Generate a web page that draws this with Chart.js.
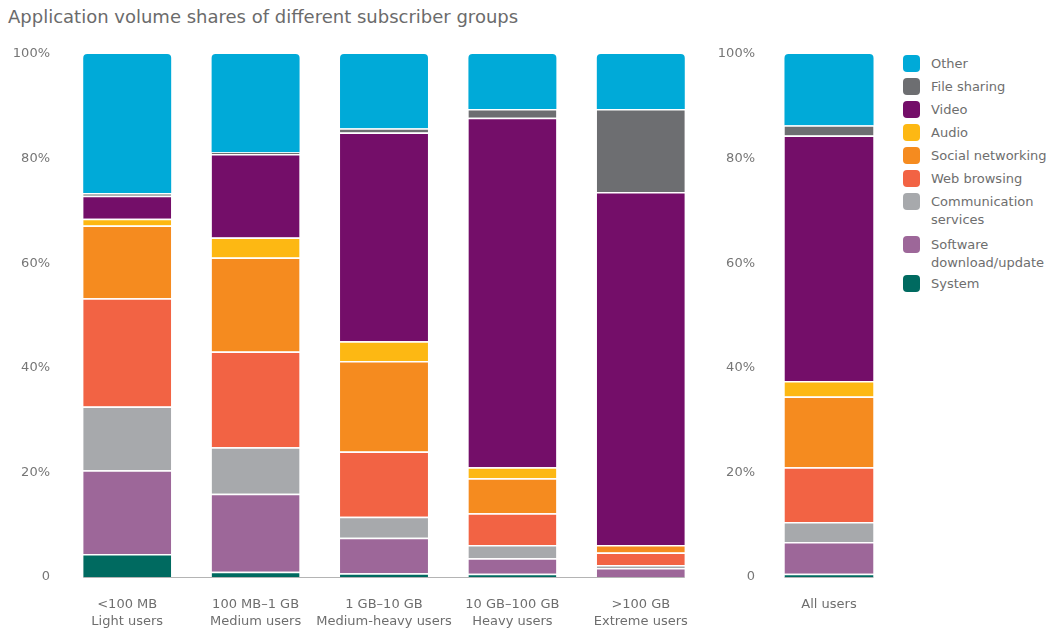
<!DOCTYPE html>
<html lang="en">
<head>
<meta charset="UTF-8">
<title>Application volume shares of different subscriber groups</title>
<script src="https://cdn.jsdelivr.net/npm/chart.js"></script>
<style>
  body { margin: 0; width: 1049px; height: 628px; background: #fff; position: relative; overflow: hidden;
         font-family: 'DejaVu Sans', sans-serif; }
  h1 { position: absolute; left: 8px; top: 6px; margin: 0; font-size: 18px; line-height: 22px;
       font-weight: normal; color: #6b6b6b; }
  .box { position: absolute; top: 0; height: 628px; }
  #groupsBox { left: 0; width: 710px; }
  #allBox { left: 700px; width: 194px; }
  #legend { position: absolute; left: 903px; top: 55px; margin: 0; padding: 0; list-style: none;
            font-size: 13px; line-height: 17px; color: #6e6e6e; }
  #legend li { display: flex; align-items: flex-start; margin-bottom: 6px; }
  #legend li.multi { line-height: 18px; margin-bottom: 7px; }
  #legend li.multi + li.multi { margin-bottom: 3px; }
  #legend .sw { width: 17px; height: 17px; border-radius: 4px; margin-right: 11px; flex: none; }
  #legend .txt { white-space: pre-line; }
</style>
</head>
<body>
<h1>Application volume shares of different subscriber groups</h1>
<div class="box" id="groupsBox"><canvas id="groupsChart"></canvas></div>
<div class="box" id="allBox"><canvas id="allChart"></canvas></div>
<ul id="legend"></ul>

<script>
// subscriber groups (two-line axis labels) and the overall bar
const groups = [
  ['<100 MB', 'Light users'],
  ['100 MB–1 GB', 'Medium users'],
  ['1 GB–10 GB', 'Medium-heavy users'],
  ['10 GB–100 GB', 'Heavy users'],
  ['>100 GB', 'Extreme users']
];
const allLabel = 'All users';
const yTicks = [0, 20, 40, 60, 80, 100];

// volume share in %, one value per group, last value = all users
const system        = [4.4, 1.0, 0.7, 0.6, 0.0, 0.6];
const software      = [16.0, 14.9, 6.8, 3.0, 1.7, 6.1];
const communication = [12.2, 8.9, 4.0, 2.5, 0.6, 3.8];
const web           = [20.7, 18.3, 12.5, 6.1, 2.4, 10.5];
const social        = [13.9, 18.0, 17.3, 6.7, 1.4, 13.5];
const audio         = [1.3, 3.8, 3.8, 2.1, 0.0, 3.0];
const video         = [4.4, 16.0, 39.9, 66.8, 67.5, 46.9];
const fileSharing   = [0.5, 0.3, 0.8, 1.7, 15.9, 2.0];
const other         = [26.6, 18.8, 14.2, 10.5, 10.5, 13.6];

// stack order, bottom to top
const seriesNames = ['System', 'Software\ndownload/update', 'Communication\nservices', 'Web browsing',
                     'Social networking', 'Audio', 'Video', 'File sharing', 'Other'];
const seriesValues = [system, software, communication, web, social, audio, video, fileSharing, other];
const seriesColors = ['#006a60', '#9d6799', '#a7a9ac', '#f26344', '#f58b1f', '#fdb813', '#740e69', '#6d6e71', '#00aad8'];

Chart.defaults.font.family = "'DejaVu Sans', sans-serif";
Chart.defaults.font.size = 13;
Chart.defaults.color = '#767676';

function makeDatasets(pick) {
  const lastIdx = seriesNames.length - 1;
  return seriesNames.map((name, i) => ({
    label: name.replace('\n', ' '),
    data: pick(seriesValues[i]),
    backgroundColor: seriesColors[i],
    borderColor: '#ffffff',
    borderWidth: i === lastIdx ? 0 : { top: 1.5, right: 0, bottom: 0, left: 0 },
    borderRadius: i === lastIdx ? { topLeft: 4, topRight: 4, bottomLeft: 0, bottomRight: 0 } : 0
  }));
}

// thin grey line under the bars only
const baseline = {
  id: 'baseline',
  afterDatasetsDraw(chart) {
    const bars = chart.getDatasetMeta(0).data;
    if (!bars.length) return;
    const first = bars[0], last = bars[bars.length - 1];
    const y = chart.scales.y.getPixelForValue(0);
    const ctx = chart.ctx;
    ctx.save();
    ctx.strokeStyle = '#b4b4b4';
    ctx.lineWidth = 1;
    ctx.beginPath();
    ctx.moveTo(first.x - first.width / 2, y + 0.5);
    ctx.lineTo(last.x + last.width / 2, y + 0.5);
    ctx.stroke();
    ctx.restore();
  }
};

function stackedBars(id, labels, pick, yWidth, yPad, rightPad) {
  return new Chart(document.getElementById(id), {
    type: 'bar',
    data: { labels: labels, datasets: makeDatasets(pick) },
    options: {
      responsive: true,
      maintainAspectRatio: false,
      animation: false,
      layout: { padding: { top: 54, right: rightPad, bottom: 0, left: 0 } },
      datasets: { bar: { barPercentage: 0.685, categoryPercentage: 1 } },
      plugins: { legend: { display: false }, tooltip: { enabled: false } },
      scales: {
        x: {
          stacked: true,
          grid: { display: false, drawTicks: false },
          border: { display: false },
          ticks: { padding: 19, maxRotation: 0, autoSkip: false, color: '#6e6e6e',
                   font: { lineHeight: 1.3 } },
          afterFit: s => { s.height = 51; }
        },
        y: {
          stacked: true,
          min: 0,
          max: 100,
          grid: { display: false, drawTicks: false },
          border: { display: false },
          ticks: { padding: yPad, callback: v => v === 0 ? '0' : v + '%' },
          afterBuildTicks: s => { s.ticks = yTicks.map(v => ({ value: v })); },
          afterFit: s => { s.width = yWidth; }
        }
      }
    },
    plugins: [baseline]
  });
}

stackedBars('groupsChart', groups, vals => vals.slice(0, groups.length), 63, 13, 5);
stackedBars('allChart', [allLabel], vals => vals.slice(groups.length), 64, 9, 0);

// legend, top of the stack first
const legend = document.getElementById('legend');
for (let i = seriesNames.length - 1; i >= 0; i--) {
  const li = document.createElement('li');
  if (seriesNames[i].includes('\n')) li.className = 'multi';
  li.innerHTML = '<span class="sw" style="background:' + seriesColors[i] + '"></span><span class="txt"></span>';
  li.querySelector('.txt').textContent = seriesNames[i];
  legend.appendChild(li);
}
</script>
</body>
</html>
